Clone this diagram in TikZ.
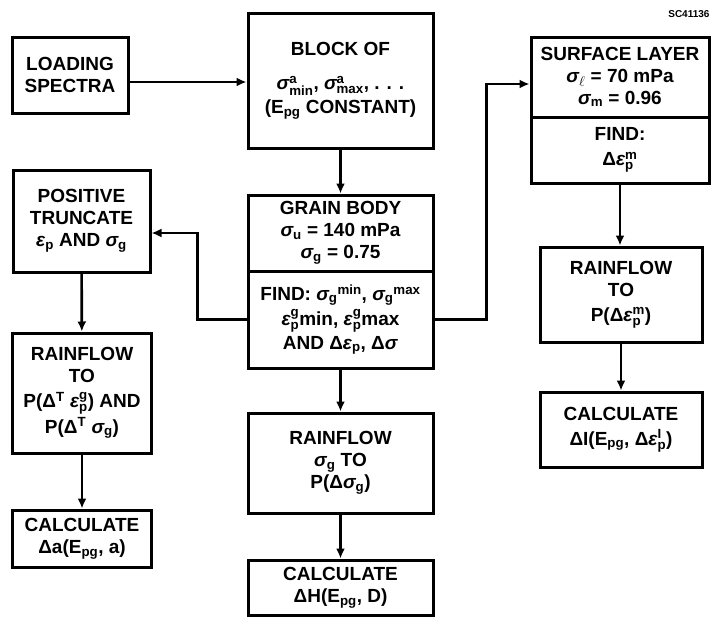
\documentclass[tikz,border=0pt]{standalone}
\usepackage{amsmath}
\usepackage{fontspec}
\setmainfont{Liberation Sans}
\usetikzlibrary{positioning,arrows.meta}
\newcommand\sig{\textit{σ}}
\newcommand\eps{\textit{ε}}
\tikzset{
  stage/.style={draw, line width=3pt, align=center, inner sep=1pt,
    font=\bfseries\fontsize{19}{22}\selectfont},
  flow/.style={line width=2.6pt, -{Latex[length=10pt,width=9pt]}},
}
\begin{document}
\begin{tikzpicture}[x=1pt,y=-1pt]
\useasboundingbox (0,0) rectangle (714,621);

\node[font=\bfseries\fontsize{10}{11}\selectfont, anchor=east] (tag) at (713,14) {SC41136};

% ---- left column ----
\node[stage, minimum width=116, minimum height=76] (load) at (70,75) {LOADING\\SPECTRA};
\node[stage, minimum width=137, minimum height=102] (pos) at (81.5,221)
  {POSITIVE\\TRUNCATE\\$\eps_{\text{p}}$ AND $\sig_{\text{g}}$};
\node[stage, minimum width=139, minimum height=120] (rainL) at (82,393)
  {RAINFLOW\\TO\\[3pt]P(Δ$^{\text{T}}$ $\eps^{\text{g}}_{\text{p}}$) AND\\[2pt]P(Δ$^{\text{T}}$ $\sig_{\text{g}}$)};
\node[stage, minimum width=139, minimum height=57] (calcL) at (82,538.5)
  {CALCULATE\\Δa(E$_{\text{pg}}$, a)};

% ---- centre column ----
\node[stage, minimum width=185, minimum height=135] (block) at (340.5,80.5)
  {BLOCK OF\\[12pt]$\sig^{\text{a}}_{\text{min}}$, $\sig^{\text{a}}_{\text{max}}$, . . .\\[2pt](E$_{\text{pg}}$ CONSTANT)};
\node[stage, minimum width=185, minimum height=76] (grainT) at (340.5,233)
  {GRAIN BODY\\$\sig_{\text{u}}$ = 140 mPa\\$\sig_{\text{g}}$ = 0.75};
\node[stage, minimum width=185, minimum height=97, below=-3pt of grainT] (grainB)
  {FIND: $\sig_{\text{g}}{}^{\text{min}}$, $\sig_{\text{g}}{}^{\text{max}}$\\[3pt]$\eps^{\text{g}}_{\text{p}}$min, $\eps^{\text{g}}_{\text{p}}$max\\[2pt]AND Δ$\eps_{\text{p}}$, Δ\sig};
\node[stage, minimum width=185, minimum height=100] (rainC) at (340.5,463)
  {RAINFLOW\\$\sig_{\text{g}}$ TO\\P(Δ$\sig_{\text{g}}$)};
\node[stage, minimum width=185, minimum height=55] (calcC) at (340.5,587.5)
  {CALCULATE\\ΔH(E$_{\text{pg}}$, D)};

% ---- right column ----
\node[stage, minimum width=178, minimum height=80] (surfT) at (620,77)
  {SURFACE LAYER\\$\sig_{\ell}$ = 70 mPa\\$\sig_{\text{m}}$ = 0.96};
\node[stage, minimum width=178, minimum height=66, below=-3pt of surfT] (surfB)
  {FIND:\\[3pt]Δ$\eps^{\text{m}}_{\text{p}}$};
\node[stage, minimum width=162, minimum height=95] (rainR) at (621,294.5)
  {RAINFLOW\\TO\\[3pt]P(Δ$\eps^{\text{m}}_{\text{p}}$)};
\node[stage, minimum width=162, minimum height=75] (calcR) at (621,429.5)
  {CALCULATE\\[3pt]ΔI(E$_{\text{pg}}$, Δ$\eps^{\text{I}}_{\text{p}}$)};

% ---- connectors ----
\coordinate (l1) at ([yshift=-7pt]load.east);
\coordinate (p1) at ([yshift=-12pt]pos.east);
\coordinate (s1) at ([yshift=-7pt]surfT.west);
\draw[flow] (l1) -- (l1 -| block.west);
\draw[flow] (block) -- (grainT);
\draw[flow] (grainB.west) -- ++(-49,0) |- (p1);
\draw[flow] (grainB.east) -- ++(52,0) |- (s1);
\draw[flow] (pos) -- (rainL);
\draw[flow] (rainL) -- (calcL);
\draw[flow] (grainB) -- (rainC);
\draw[flow] (rainC) -- (calcC);
\draw[flow] (surfB) -- (surfB |- rainR.north);
\draw[flow] (rainR) -- (calcR);
\end{tikzpicture}
\end{document}
